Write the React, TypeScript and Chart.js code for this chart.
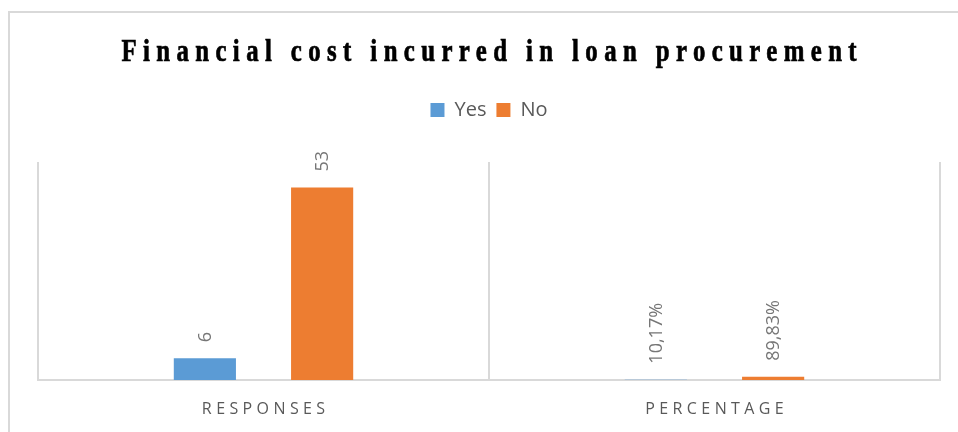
import React, { useEffect, useRef } from "react";
import { Chart, registerables } from "chart.js";

Chart.register(...registerables);

const chartTitle = "Financial cost incurred in loan procurement";
const categories = ["RESPONSES", "PERCENTAGE"];
const seriesNames = ["Yes", "No"];
const yesValues = [6, 0.1017];
const noValues = [53, 0.8983];
const seriesColors = ["#5B9BD5", "#ED7D31"];
const yAxisMax = 60;

const TEXT_GRAY = "#595959";
const LABEL_GRAY = "#767676";
const GRID_GRAY = "#D9D9D9";

function formatLabel(value: number, index: number): string {
  if (index === 1) return (value * 100).toFixed(2).replace(".", ",") + "%";
  return String(value);
}

const decorPlugin = {
  id: "decor",
  afterDatasetsDraw(chart: any) {
    const ctx = chart.ctx as CanvasRenderingContext2D;
    // rotated data labels
    ctx.save();
    ctx.fillStyle = LABEL_GRAY;
    ctx.font = "18px 'Open Sans'";
    ctx.textAlign = "left";
    ctx.textBaseline = "middle";
    chart.data.datasets.forEach((ds: any, di: number) => {
      const meta = chart.getDatasetMeta(di);
      meta.data.forEach((el: any, i: number) => {
        const text = formatLabel(ds.data[i], i);
        ctx.save();
        ctx.translate(el.x + 1, el.y - 16);
        ctx.rotate(-Math.PI / 2);
        ctx.fillText(text, 0, 0);
        ctx.restore();
      });
    });
    ctx.restore();

    // category labels (letter-spaced)
    const xs = chart.scales.x;
    ctx.save();
    ctx.fillStyle = TEXT_GRAY;
    ctx.font = "16px 'Open Sans'";
    (ctx as any).letterSpacing = "4.4px";
    ctx.textAlign = "left";
    ctx.textBaseline = "alphabetic";
    categories.forEach((c, i) => {
      const w = ctx.measureText(c).width - 4.4;
      ctx.fillText(c, xs.getPixelForTick(i) - w / 2, 414);
    });
    ctx.restore();
  },
  afterDraw(chart: any) {
    const ctx = chart.ctx as CanvasRenderingContext2D;
    const area = chart.chartArea;
    ctx.save();
    ctx.fillStyle = "#000000";
    ctx.strokeStyle = "#000000";
    ctx.lineWidth = 0.7;
    ctx.font = "bold 31px 'Liberation Serif'";
    (ctx as any).letterSpacing = "8px";
    ctx.textAlign = "left";
    ctx.textBaseline = "alphabetic";
    const w = ctx.measureText(chartTitle).width - 8;
    ctx.translate((area.left + area.right) / 2, 61);
    ctx.scale(0.8, 1);
    ctx.fillText(chartTitle, -w / 2, 0);
    ctx.strokeText(chartTitle, -w / 2, 0);
    ctx.restore();
  },
};

export default function App() {
  const canvasRef = useRef<HTMLCanvasElement | null>(null);

  useEffect(() => {
    if (!canvasRef.current) return;
    const chart = new Chart(canvasRef.current, {
      type: "bar",
      data: {
        labels: categories,
        datasets: [
          {
            label: seriesNames[0],
            data: yesValues,
            backgroundColor: seriesColors[0],
            categoryPercentage: 0.52,
            barPercentage: 0.53,
          },
          {
            label: seriesNames[1],
            data: noValues,
            backgroundColor: seriesColors[1],
            categoryPercentage: 0.52,
            barPercentage: 0.53,
          },
        ],
      },
      options: {
        animation: false,
        responsive: false,
        maintainAspectRatio: false,
        layout: { padding: { top: 90, left: 38, right: 18, bottom: 52 } },
        plugins: {
          title: { display: false },
          tooltip: { enabled: false },
          legend: {
            display: true,
            position: "top",
            labels: {
              boxWidth: 14,
              boxHeight: 14,
              padding: 10,
              color: TEXT_GRAY,
              font: { family: "'Open Sans'", size: 20 },
            },
          },
        },
        scales: {
          x: {
            position: "bottom",
            grid: {
              display: true,
              offset: true,
              drawTicks: false,
              color: GRID_GRAY,
              lineWidth: 2,
            },
            border: { display: true, color: GRID_GRAY, width: 2 },
            ticks: { display: false },
          },
          xTop: {
            type: "category",
            position: "top",
            display: true,
            grid: { display: false },
            border: { display: false },
            ticks: { display: false },
            afterFit: (s: any) => {
              s.height = 32;
            },
          },
          y: {
            display: false,
            min: 0,
            max: yAxisMax,
          },
        },
      } as any,
      plugins: [decorPlugin],
    });
    return () => chart.destroy();
  }, []);

  return (
    <div style={{ position: "absolute", left: 0, top: 0, width: 958, height: 432, background: "#ffffff", overflow: "hidden" }}>
      <div
        style={{
          position: "absolute",
          left: 8,
          top: 11,
          width: 1000,
          height: 500,
          borderLeft: "2px solid #D9D9D9",
          borderTop: "2px solid #D9D9D9",
        }}
      />
      <canvas ref={canvasRef} width={958} height={432} style={{ position: "absolute", left: 0, top: 0, width: 958, height: 432 }} />
    </div>
  );
}
